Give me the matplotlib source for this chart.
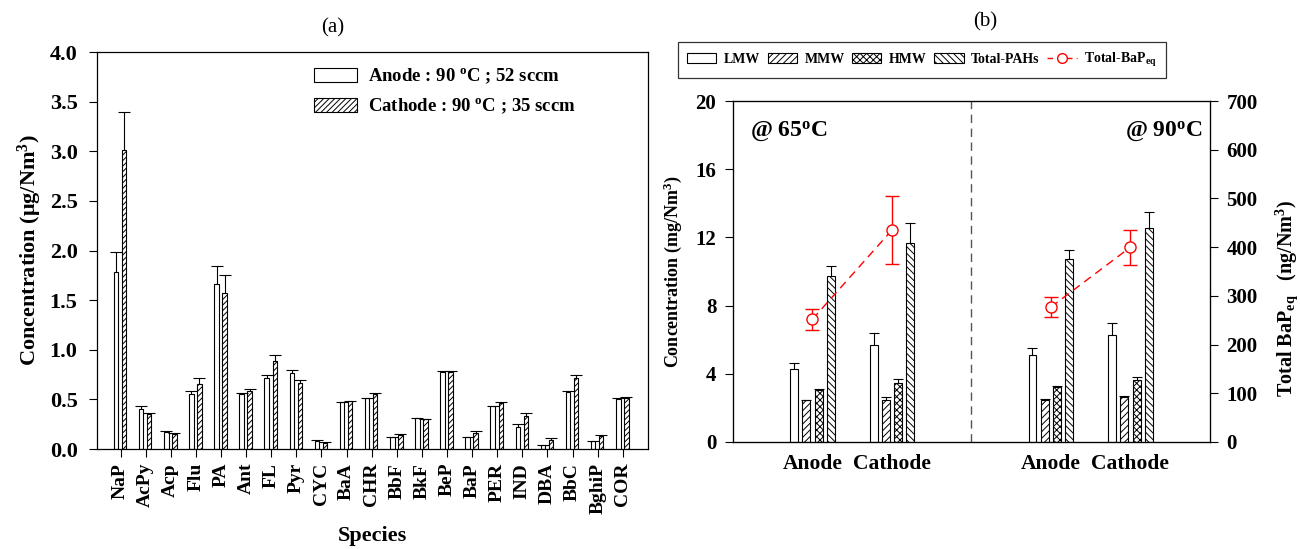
import numpy as np
import matplotlib
matplotlib.use("Agg")
import matplotlib.pyplot as plt
from matplotlib.patches import Patch
from matplotlib.lines import Line2D

plt.rcParams['font.family'] = ['Liberation Serif', 'DejaVu Serif']
plt.rcParams['font.weight'] = 'bold'
plt.rcParams['axes.labelweight'] = 'bold'
plt.rcParams['mathtext.fontset'] = 'custom'
plt.rcParams['mathtext.rm'] = 'Liberation Serif:bold'
plt.rcParams['mathtext.bf'] = 'Liberation Serif:bold'
plt.rcParams['mathtext.it'] = 'Liberation Serif:italic:bold'
plt.rcParams['hatch.linewidth'] = 0.7

# ---------------- panel (a) data ----------------
species = ["NaP", "AcPy", "Acp", "Flu", "PA", "Ant", "FL", "Pyr", "CYC", "BaA",
           "CHR", "BbF", "BkF", "BeP", "BaP", "PER", "IND", "DBA", "BbC", "BghiP", "COR"]
anode = [1.78, 0.40, 0.175, 0.55, 1.66, 0.55, 0.72, 0.77, 0.077, 0.47,
         0.51, 0.118, 0.31, 0.78, 0.118, 0.43, 0.225, 0.037, 0.574, 0.077, 0.504]
anode_err = [0.21, 0.03, 0.01, 0.03, 0.18, 0.01, 0.03, 0.03, 0.01, 0.006,
             0.006, 0.006, 0.004, 0.006, 0.005, 0.007, 0.027, 0.004, 0.006, 0.004, 0.006]
cathode = [3.01, 0.35, 0.148, 0.66, 1.57, 0.58, 0.89, 0.67, 0.06, 0.48,
           0.555, 0.141, 0.30, 0.78, 0.16, 0.463, 0.33, 0.094, 0.715, 0.128, 0.517]
cathode_err = [0.39, 0.01, 0.01, 0.06, 0.18, 0.02, 0.06, 0.03, 0.01, 0.005,
               0.01, 0.01, 0.007, 0.006, 0.017, 0.007, 0.034, 0.013, 0.03, 0.016, 0.007]

# ---------------- panel (b) data ----------------
groups = ["Anode", "Cathode", "Anode", "Cathode"]
lmw = [4.26, 5.67, 5.10, 6.28]
lmw_err = [0.39, 0.75, 0.41, 0.68]
mmw = [2.44, 2.48, 2.46, 2.62]
mmw_err = [0.04, 0.16, 0.04, 0.08]
hmw = [3.03, 3.44, 3.21, 3.64]
hmw_err = [0.10, 0.27, 0.05, 0.17]
total = [9.76, 11.67, 10.75, 12.55]
total_err = [0.56, 1.15, 0.49, 0.92]
bapeq = [252, 435, 277, 400]
bapeq_err = [22, 69, 21, 36]


def upper_only(bars):
    # hide the lower cap that one-sided yerr still draws at the bar top
    caps = bars.errorbar.lines[1]
    if caps:
        caps[0].set_visible(False)


fig = plt.figure(figsize=(13, 5.49), dpi=100)

# ================= (a) =================
ax = fig.add_axes([0.0746, 0.1821, 0.4238, 0.7231])
n = len(species)
x = np.arange(1, n + 1)
w = 0.18
ekw_a = dict(ecolor='black', elinewidth=0.8, capsize=4, capthick=0.8)
b1 = ax.bar(x - 0.18, anode, w, color='white', edgecolor='black', lw=0.8,
            yerr=[np.zeros(n), anode_err], error_kw=ekw_a,
            label=r"Anode : 90 $^{\rm o}$C ; 52 sccm")
b2 = ax.bar(x + 0.14, cathode, w, color='white', edgecolor='black', lw=0.8, hatch='//////',
            yerr=[np.zeros(n), cathode_err], error_kw=ekw_a,
            label=r"Cathode : 90 $^{\rm o}$C ; 35 sccm")
upper_only(b1)
upper_only(b2)
ax.set_xlim(0.06, n + 1.0)
ax.set_ylim(0, 4.0)
ax.set_yticks(np.arange(0, 4.01, 0.5))
ax.set_yticklabels([f"{v:.1f}" for v in np.arange(0, 4.01, 0.5)], fontsize=16)
ax.set_xticks(x)
ax.set_xticklabels(species, rotation=90, fontsize=14)
ax.tick_params(axis='y', direction='out', length=6, width=0.8, pad=8)
ax.tick_params(axis='x', direction='out', length=6, width=0.8, pad=4)
ax.set_ylabel("Concentration (μg/Nm$^3$)", fontsize=16, labelpad=4)
ax.set_xlabel("Species", fontsize=16, labelpad=9)
for s in ax.spines.values():
    s.set_linewidth(0.9)
ax.legend(loc='upper left', bbox_to_anchor=(0.363, 1.005), frameon=False, fontsize=13.5,
          handlelength=2.3, handleheight=0.8, labelspacing=0.55, handletextpad=0.6)

# ================= (b) =================
bx = fig.add_axes([0.5638, 0.1949, 0.3669, 0.6211])
centers = np.array([2 / 3, 4 / 3, 8 / 3, 10 / 3])
sp = 0.103
bw = 0.067
ekw = dict(ecolor='black', elinewidth=0.8, capsize=3.5, capthick=0.8)
z4 = np.zeros(4)
for vals, errs, off, hatch in [(lmw, lmw_err, -1.5, None), (mmw, mmw_err, -0.5, '/////'),
                               (hmw, hmw_err, 0.5, 'xxxxx'), (total, total_err, 1.5, '\\\\\\\\\\')]:
    bb = bx.bar(centers + off * sp, vals, bw, color='white', edgecolor='black', lw=0.8, hatch=hatch,
                yerr=[z4, errs], error_kw=ekw)
    upper_only(bb)
bx.axvline(2, color='#555555', ls=(0, (6, 4)), lw=1)
bx.set_xlim(0, 4)
bx.set_ylim(0, 20)
bx.set_yticks([0, 4, 8, 12, 16, 20])
bx.set_yticklabels(["0", "4", "8", "12", "16", "20"], fontsize=15)
bx.set_xticks(centers)
bx.set_xticklabels(groups, fontsize=15.5)
bx.tick_params(axis='x', length=0, pad=9)
bx.tick_params(axis='y', direction='out', length=6, width=0.8, pad=6)
bx.set_ylabel("Concentration (mg/Nm$^3$)", fontsize=13, labelpad=8)
bx.text(0.035, 0.945, r"@ 65$^{\rm o}$C", transform=bx.transAxes, fontsize=17, va='top', ha='left')
bx.text(0.985, 0.945, r"@ 90$^{\rm o}$C", transform=bx.transAxes, fontsize=17, va='top', ha='right')
for s in bx.spines.values():
    s.set_linewidth(0.9)

rx = bx.twinx()
rx.set_ylim(0, 700)
for i in (0, 2):
    rx.errorbar(centers[i:i + 2], bapeq[i:i + 2], yerr=bapeq_err[i:i + 2], color='red', ls=(0, (6, 4)),
                lw=1, marker='o', ms=8, mfc='white', mec='red', mew=1, capsize=5, elinewidth=1)
rx.set_yticks(np.arange(0, 701, 100))
rx.set_yticklabels([str(v) for v in range(0, 701, 100)], fontsize=15)
rx.tick_params(axis='y', direction='out', length=6, width=0.8, pad=6)
rx.set_ylabel(r"Total BaP$_{\rm eq}$   (ng/Nm$^3$)", fontsize=14.5)
rx.yaxis.set_label_coords(1.132, 0.42)

handles = [Patch(facecolor='white', edgecolor='black', lw=0.8, label='LMW'),
           Patch(facecolor='white', edgecolor='black', lw=0.8, hatch='/////', label='MMW'),
           Patch(facecolor='white', edgecolor='black', lw=0.8, hatch='xxxxx', label='HMW'),
           Patch(facecolor='white', edgecolor='black', lw=0.8, hatch='\\\\\\\\\\', label='Total-PAHs'),
           Line2D([], [], color='red', ls=(0, (4, 3)), lw=1, marker='o', ms=7, mfc='white', mec='red',
                  label=r"Total-BaP$_{\rm eq}$")]
leg = fig.legend(handles=handles, loc='upper left', bbox_to_anchor=(0.5215, 0.9235), ncol=5,
                 fontsize=10, frameon=True, fancybox=False, edgecolor='black', borderaxespad=0,
                 handlelength=2.1, handleheight=0.7, columnspacing=0.55, handletextpad=0.55,
                 borderpad=0.65)
leg.get_frame().set_linewidth(0.9)

fig.text(0.256, 0.95, "(a)", fontsize=15, fontweight='normal', ha='center', va='center')
fig.text(0.758, 0.96, "(b)", fontsize=15, fontweight='normal', ha='center', va='center')

fig.savefig("out.png", dpi=100)
